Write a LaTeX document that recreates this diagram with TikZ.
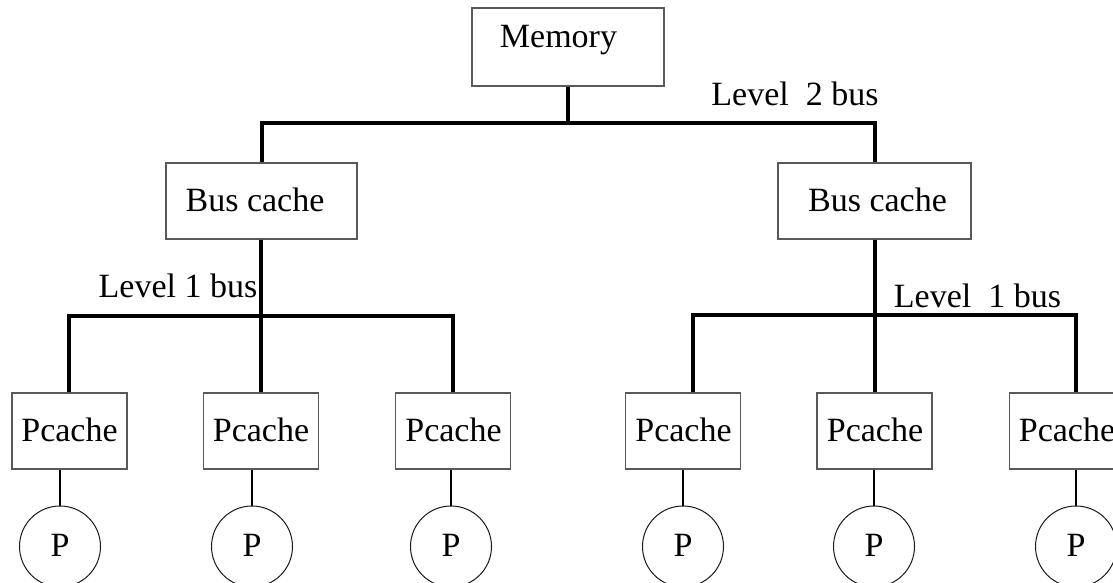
\documentclass[tikz,border=0pt]{standalone}
\usepackage{fontspec}
\setmainfont{Liberation Serif}
\begin{document}
\begin{tikzpicture}[x=1pt,y=-1pt,
  box/.style={draw=black!65, line width=1.3pt, inner sep=0pt},
  pcbox/.style={box, minimum width=115pt, minimum height=76pt},
  proc/.style={draw=black!90, line width=1pt, circle, minimum size=81pt, inner sep=0pt},
  lbl/.style={anchor=base, inner sep=0pt, font=\fontsize{34}{40}\selectfont},
  bus/.style={line width=3.8pt},
  link/.style={line width=2pt}]
\useasboundingbox (0,0) rectangle (1113,583);

% boxes
\node[box, minimum width=192pt, minimum height=78pt] (mem) at (568,47) {};
\node[box, minimum width=191pt, minimum height=76pt] (bc1) at (261.5,201) {};
\node[box, minimum width=193pt, minimum height=76pt] (bc2) at (874.5,201) {};
\node[pcbox] (pc1) at (69.5,431) {};
\node[pcbox] (pc2) at (261,431) {};
\node[pcbox] (pc3) at (453,431) {};
\node[pcbox] (pc4) at (683,431) {};
\node[pcbox] (pc5) at (874.5,431) {};
\node[pcbox] (pc6) at (1067,431) {};

% processors
\node[proc] (p1) at (60,546.5) {};
\node[proc] (p2) at (252,546.5) {};
\node[proc] (p3) at (451,546.5) {};
\node[proc] (p4) at (683,546.5) {};
\node[proc] (p5) at (874,546.5) {};
\node[proc] (p6) at (1076,546.5) {};

% texts
\node[lbl] (tmem) at (558.5,48) {Memory};
\node[lbl] (tl2) at (795,106) {Level\ \ 2 bus};
\node[lbl] (tbc1) at (255,211) {Bus cache};
\node[lbl] (tbc2) at (877.5,211) {Bus cache};
\node[lbl] (tl1a) at (178,297) {Level 1 bus};
\node[lbl] (tl1b) at (977.5,307) {Level\ \ 1 bus};
\foreach \i/\x in {1/69.5,2/261,3/453.5,4/683.5,5/875,6/1067}
  \node[lbl] (tpc\i) at (\x,441) {Pcache};
\foreach \i/\x in {1/60,2/252,3/451,4/683,5/874,6/1076}
  \node[lbl] (tp\i) at (\x,556) {P};

% bus coordinates
\coordinate (l2a) at (262,123);
\coordinate (l2m) at (568,123);
\coordinate (l2b) at (875,123);
\coordinate (l1a) at (69,316);
\coordinate (l1m) at (261,316);
\coordinate (l1c) at (453,316);
\coordinate (r1a) at (693,315);
\coordinate (r1m) at (875,315);
\coordinate (r1c) at (1076,315);

% buses
\draw[bus] (mem.south -| l2m) -- (l2m);
\draw[bus] (bc1.north -| l2a) -- (l2a) -- (l2b) -- (bc2.north -| l2b);
\draw[bus] (pc1.north -| l1a) -- (l1a) -- (l1c) -- (pc3.north -| l1c);
\draw[bus] (bc1.south -| l1m) -- (pc2.north -| l1m);
\draw[bus] (pc4.north -| r1a) -- (r1a) -- (r1c) -- (pc6.north -| r1c);
\draw[bus] (bc2.south -| r1m) -- (pc5.north -| r1m);

% cache-processor links
\foreach \i in {1,...,6}
  \draw[link] (pc\i.south -| p\i.north) -- (p\i.north);
\end{tikzpicture}
\end{document}
